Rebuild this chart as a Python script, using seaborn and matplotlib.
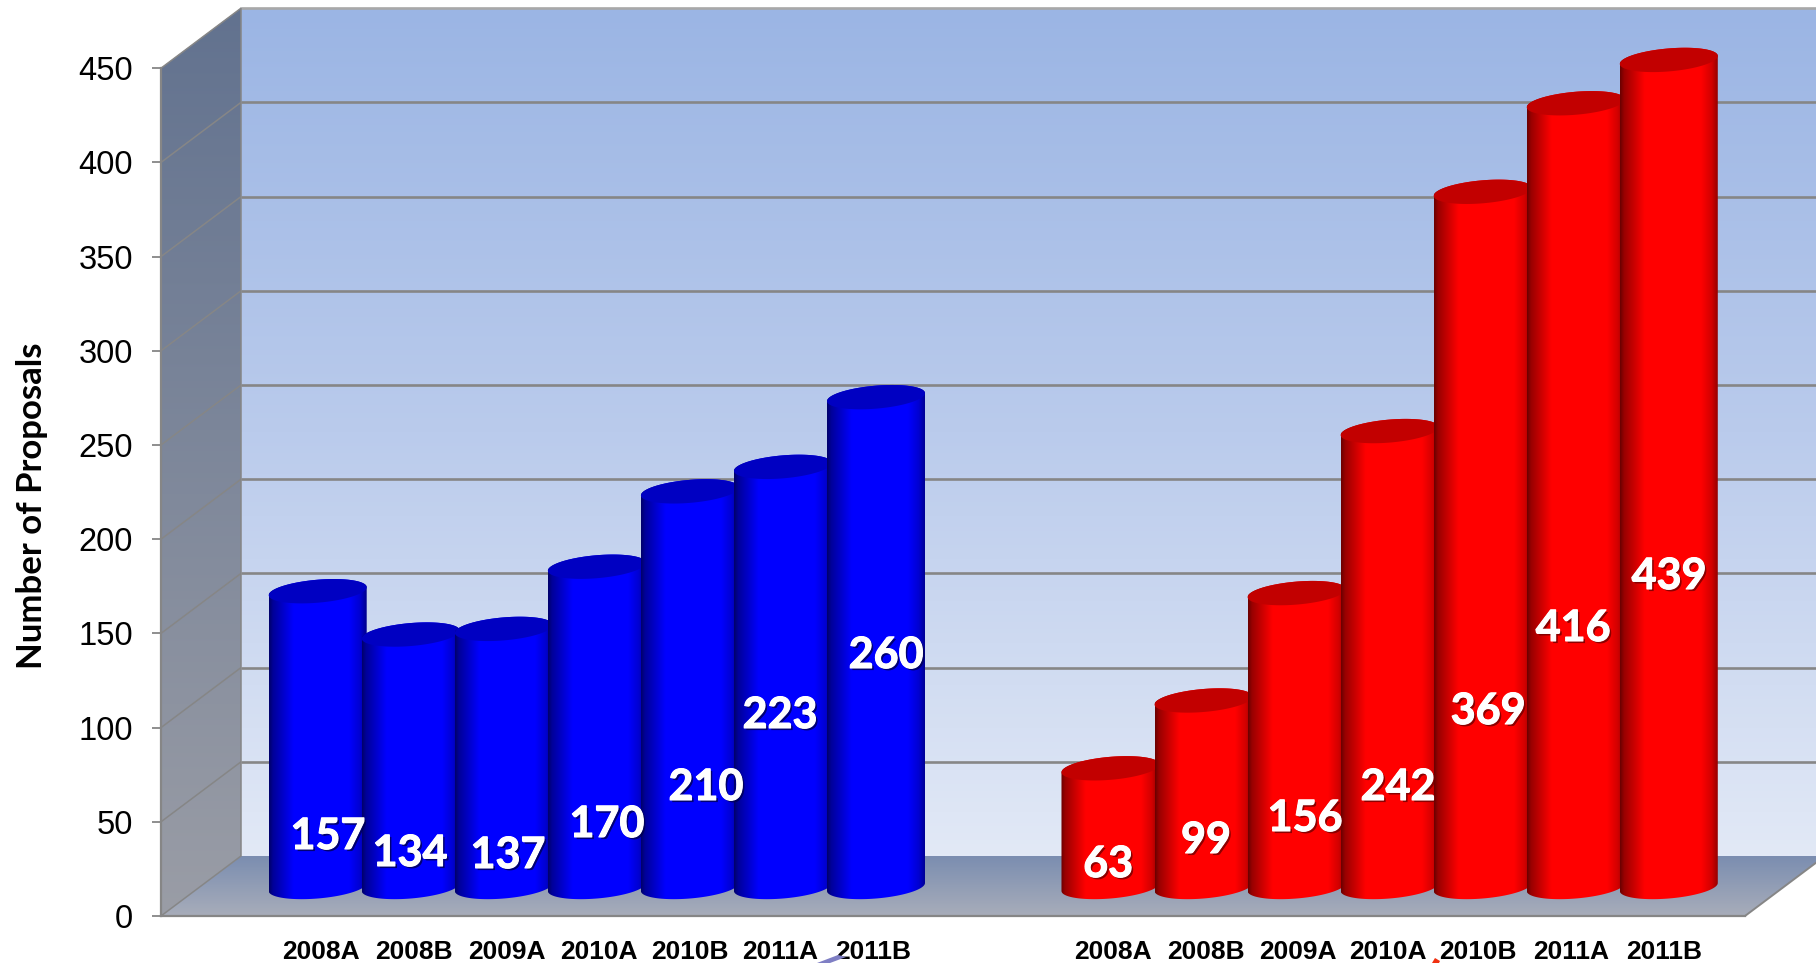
import numpy as np
import pandas as pd
import seaborn as sns
import matplotlib.pyplot as plt
import matplotlib.patheffects as pe
from matplotlib.colors import to_rgb
from matplotlib.patches import Polygon

# data
periods = ['2008A', '2008B', '2009A', '2010A', '2010B', '2011A', '2011B']
blue_values = [157, 134, 137, 170, 210, 223, 260]
red_values = [63, 99, 156, 242, 369, 416, 439]
y_ticks = [0, 50, 100, 150, 200, 250, 300, 350, 400, 450]
y_title = 'Number of Proposals'

# layout, in pixels of the 1816x963 picture
W, H = 1816, 963
U = 93.05            # px per category step
V = 1.884            # px per proposal
X0 = 317.7           # px of first bar centre
Y0 = 916             # px of value 0 on the front edge
LEFT, RIGHT = 161, 1745
DX, DY = 80, 60      # depth of the box
LIFT = 29            # bars stand half way into the box
GAP = 8.52           # position of first red bar
BAR_WIDTH = 98 / U
B_CAP, S_CAP = 11.5, 4

label_nudge = [3, 3, 3, 2, 0, -3, -3, 2, 2, 1, -2, -5, -5, -5]
blue_label_px = [(328, 836), (410, 853), (508, 855), (607, 824), (706, 787), (780, 715), (886, 655)]
red_label_px = [(1108, 864), (1206, 840), (1305, 818), (1398, 787), (1488, 711), (1573, 628), (1669, 576)]
# stray bits of clip art showing at the bottom edge of the slide
stray_blue_px = [(817, 963), (838, 955), (846, 957), (830, 963)]
stray_red_px = [(1432, 963), (1435, 958), (1440, 961), (1439, 963)]


def px2x(px):
    return (px - X0) / U


def px2y(px):
    return (Y0 - px) / V


def gradient_v(ax, stops, top_px, bottom_px, outline, zorder):
    # vertical colour ramp clipped to a polygon given in pixels
    pos = np.linspace(0, 1, 256)
    cols = np.array([to_rgb(c) for _, c in stops])
    where = [p for p, _ in stops]
    img = np.stack([np.interp(pos, where, cols[:, i]) for i in range(3)], axis=1)[:, None, :]
    im = ax.imshow(img, extent=(px2x(LEFT), px2x(W + 100), px2y(bottom_px), px2y(top_px)),
                   aspect='auto', origin='upper', zorder=zorder, interpolation='bilinear')
    poly = Polygon([(px2x(a), px2y(b)) for a, b in outline], closed=True, transform=ax.transData,
                   fill=False, edgecolor='none')
    ax.add_patch(poly)
    im.set_clip_path(poly)


def draw_cylinder(ax, bar, zorder):
    # turn a flat seaborn bar into a shaded cylinder
    base = np.array(to_rgb(bar.get_facecolor()))
    x, w, h = bar.get_x(), bar.get_width(), bar.get_height()
    cx = x + w / 2
    lift = LIFT / V
    b = B_CAP / V
    s = S_CAP / V

    def ring(t, level):
        return cx + w / 2 * np.cos(t), level + lift + b * np.sin(t) + s * np.cos(t)

    tx, ty = ring(np.linspace(0, np.pi, 60), h)
    bx, by = ring(np.linspace(np.pi, 2 * np.pi, 60), 0)
    body = Polygon(np.column_stack([np.r_[tx, bx], np.r_[ty, by]]), closed=True, fill=False, edgecolor='none')
    ax.add_patch(body)

    pos = np.linspace(0, 1, 200)
    shade = np.interp(pos, [0, 0.04, 0.25, 0.82, 0.93, 1], [0.42, 0.6, 1, 1, 0.82, 0.55])
    img = (shade[:, None] * base)[None, :, :]
    im = ax.imshow(img, extent=(x, x + w, -lift, h + 2 * lift), aspect='auto', zorder=zorder,
                   interpolation='bilinear')
    im.set_clip_path(body)

    cap_x, cap_y = ring(np.linspace(0, 2 * np.pi, 120), h)
    ax.fill(cap_x, cap_y, color=base * 0.76, lw=0, zorder=zorder + 0.1)


sns.set_theme(style='white')
plt.rcParams['font.family'] = ['Liberation Sans', 'DejaVu Sans']

df = pd.DataFrame({
    'pos': [i for i in range(7)] + [GAP + i for i in range(7)],
    'value': blue_values + red_values,
    'group': ['blue'] * 7 + ['red'] * 7,
})

fig = plt.figure(figsize=(W / 100, H / 100), dpi=100)
ax = fig.add_axes([0, 0, 1, 1])
sns.barplot(data=df, x='pos', y='value', hue='group', palette={'blue': '#0000ff', 'red': '#ff0000'},
            native_scale=True, dodge=False, width=BAR_WIDTH, saturation=1, legend=False, ax=ax)

bars = sorted(ax.patches, key=lambda p: p.get_x())
for i, bar in enumerate(bars):
    bar.set_visible(False)
    draw_cylinder(ax, bar, 10 + i)

# box walls
gradient_v(ax, [(0, '#9bb5e4'), (0.5, '#bacbec'), (1, '#e2e9f6')], Y0 - DY - 848, Y0 - DY,
           [(LEFT + DX, Y0 - DY - 848), (W + 50, Y0 - DY - 848), (W + 50, Y0 - DY), (LEFT + DX, Y0 - DY)], 1)
gradient_v(ax, [(0, '#62728f'), (1, '#9a9da6')], Y0 - 848 - DY, Y0,
           [(LEFT, Y0), (LEFT, Y0 - 848), (LEFT + DX, Y0 - 848 - DY), (LEFT + DX, Y0 - DY)], 1)
gradient_v(ax, [(0, '#7a8db0'), (1, '#a8adba')], Y0 - DY, Y0,
           [(LEFT, Y0), (RIGHT, Y0), (RIGHT + DX, Y0 - DY), (LEFT + DX, Y0 - DY)], 1)

# grid lines, running back along the side wall then across the back wall
line = '#868686'
xl, xb = px2x(LEFT), px2x(LEFT + DX)
rise = DY / V
for t in y_ticks:
    ax.plot([xl, xb], [t, t + rise], color=line, lw=1.1, zorder=2, solid_capstyle='butt')
    if t > 0:
        ax.plot([xb, px2x(W + 10)], [t + rise, t + rise], color='#a8a8a8' if t == 450 else line,
                lw=1.9, zorder=2, solid_capstyle='butt')
ax.plot([xb, xb], [rise, 450 + rise], color=line, lw=1.1, zorder=2)
ax.plot([px2x(RIGHT), px2x(RIGHT + DX)], [0, rise], color=line, lw=1.4, zorder=2)

ax.fill([px2x(a) for a, _ in stray_blue_px], [px2y(b) for _, b in stray_blue_px], color='#7f7fc4', lw=0, zorder=5)
ax.fill([px2x(a) for a, _ in stray_red_px], [px2y(b) for _, b in stray_red_px], color='#f03010', lw=0, zorder=5)

ax.set_xlim(px2x(0), px2x(W))
ax.set_ylim(px2y(H), px2y(0))

# axis lines, ticks and labels
for side in ['top', 'right']:
    ax.spines[side].set_visible(False)
ax.spines['left'].set_position(('data', xl))
ax.spines['left'].set_bounds(0, 450)
ax.spines['bottom'].set_position(('data', 0))
ax.spines['bottom'].set_bounds(xl, px2x(RIGHT))
for side in ['left', 'bottom']:
    ax.spines[side].set_color(line)
    ax.spines[side].set_linewidth(1.6)
    ax.spines[side].set_zorder(3)

ax.set_yticks(y_ticks)
ax.tick_params(axis='y', left=True, length=6.5, width=1.3, color=line, pad=13.5, labelsize=23.5, labelcolor='black')
ticks_x = list(df['pos'] + np.array(label_nudge) / U)
ax.set_xticks(ticks_x)
ax.set_xticklabels(periods + periods, fontweight='bold', fontsize=19, color='black')
ax.tick_params(axis='x', bottom=False, length=0, pad=17.5)
ax.set_xlabel('')
ax.set_ylabel('')
fig.text(32 / W, 1 - 506 / H, y_title, rotation=90, ha='center', va='center', fontsize=25,
         fontweight='bold', family='Lato', color='black')

# value labels sit where they were dragged to, not on the bar tops
shadow_blue = [pe.withSimplePatchShadow(offset=(1.5, -1.5), shadow_rgbFace='#000050', alpha=0.8),
               pe.withStroke(linewidth=0.8, foreground='white')]
shadow_red = [pe.withSimplePatchShadow(offset=(1.5, -1.5), shadow_rgbFace='#700000', alpha=0.8),
              pe.withStroke(linewidth=0.8, foreground='white')]
for values, spots, fx in [(blue_values, blue_label_px, shadow_blue), (red_values, red_label_px, shadow_red)]:
    for v, (px, py) in zip(values, spots):
        ax.text(px2x(px), px2y(py), str(v), color='white', fontsize=31, fontweight='bold', family='Lato',
                ha='center', va='center', zorder=40, path_effects=fx)

fig.savefig('out.png', dpi=100)
